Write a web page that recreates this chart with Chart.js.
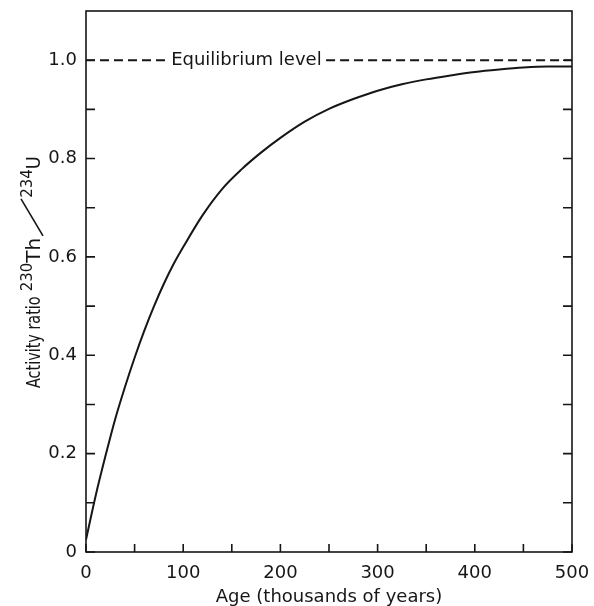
<!DOCTYPE html>
<html>
<head>
<meta charset="utf-8">
<script src="https://cdn.jsdelivr.net/npm/chart.js@4.4.1/dist/chart.umd.min.js"></script>
<style>
  html, body { margin: 0; padding: 0; background: #fff; }
  #wrap { width: 594px; height: 606px; }
</style>
</head>
<body>
<div id="wrap"><canvas id="thChart" width="594" height="606"></canvas></div>
<script>
// values (age in thousands of years)
const ageKyr = [0, 10, 20, 30, 40, 50, 60, 70, 80, 90, 100, 120, 140, 160, 180, 200,
  225, 250, 275, 300, 325, 350, 375, 400, 425, 450, 475, 500];
const activityRatio = [0.025, 0.115, 0.195, 0.27, 0.335, 0.395, 0.45, 0.50, 0.545, 0.585, 0.62,
  0.685, 0.738, 0.778, 0.812, 0.842, 0.875, 0.901, 0.921, 0.938, 0.951, 0.961, 0.969, 0.976,
  0.981, 0.985, 0.987, 0.987];

// dashed equilibrium line, broken where the label sits
const equilibriumAge = [0, 83, 165, 247, 500];
const equilibriumRatio = [1.0, 1.0, null, 1.0, 1.0];

const xTickLabels = [0, 100, 200, 300, 400, 500];
const yTickLabels = ["0", "0.2", "0.4", "0.6", "0.8", "1.0"];

const FONT = "'DejaVu Sans', sans-serif";
const INK = "#161616";

const toPoints = (xs, ys) => xs.map((x, i) => ({ x: x, y: ys[i] }));

// inward tick marks, frame, labels that chart.js can't do on its own
const decorations = {
  id: "decorations",
  afterDraw(chart) {
    const { ctx, chartArea: a, scales } = chart;
    const xs = scales.x, ys = scales.y;
    ctx.save();
    ctx.strokeStyle = INK;
    ctx.lineWidth = 1.6;
    ctx.strokeRect(a.left, a.top, a.right - a.left, a.bottom - a.top);

    ctx.beginPath();
    xs.ticks.forEach((t) => {
      const px = xs.getPixelForValue(t.value);
      ctx.moveTo(px, a.bottom);
      ctx.lineTo(px, a.bottom - 8);
    });
    ys.ticks.forEach((t) => {
      const py = ys.getPixelForValue(t.value);
      if (py <= a.top + 2) return;
      ctx.moveTo(a.left, py);
      ctx.lineTo(a.left + 9, py);
      ctx.moveTo(a.right, py);
      ctx.lineTo(a.right - 9, py);
    });
    ctx.stroke();

    ctx.fillStyle = INK;
    ctx.font = "18px " + FONT;
    ctx.textAlign = "center";
    ctx.textBaseline = "middle";
    ctx.fillText("Equilibrium level", xs.getPixelForValue(165), ys.getPixelForValue(1.0));

    ctx.fillText("Age (thousands of years)", (a.left + a.right) / 2, 597);

    // y title with superscripts, rotated; the slash is a long oblique stroke
    const parts = [
      { t: "Activity ratio", f: 20, sx: 0.72, dy: 0, gap: 5 },
      { t: "230", f: 15, sx: 1, dy: -8, gap: 0 },
      { t: "Th", f: 20, sx: 1, dy: 0, gap: 1 },
      { t: "/", f: 20, sx: 1, dy: 0, gap: 1, w: 38 },
      { t: "234", f: 15, sx: 1, dy: -8, gap: 0 },
      { t: "U", f: 20, sx: 0.9, dy: 0, gap: 0 }
    ];
    let total = 0;
    parts.forEach((p) => {
      ctx.font = p.f + "px " + FONT;
      if (p.t !== "/") p.w = ctx.measureText(p.t).width * p.sx;
      total += p.w + p.gap;
    });
    ctx.translate(33, 272);
    ctx.rotate(-Math.PI / 2);
    ctx.textAlign = "left";
    ctx.textBaseline = "alphabetic";
    let cx = -total / 2;
    parts.forEach((p) => {
      if (p.t === "/") {
        ctx.lineWidth = 1.6;
        ctx.beginPath();
        ctx.moveTo(cx + 1, 10);
        ctx.lineTo(cx + p.w, -12);
        ctx.stroke();
      } else {
        ctx.font = p.f + "px " + FONT;
        ctx.save();
        ctx.translate(cx, 7 + p.dy);
        ctx.scale(p.sx, 1);
        ctx.fillText(p.t, 0, 0);
        ctx.restore();
      }
      cx += p.w + p.gap;
    });
    ctx.restore();
  }
};

const noScalePad = (s) => {
  s.paddingTop = 0;
  s.paddingBottom = 0;
  s.paddingLeft = 0;
  s.paddingRight = 0;
};

new Chart(document.getElementById("thChart"), {
  type: "line",
  data: {
    datasets: [
      {
        label: "Activity ratio",
        data: toPoints(ageKyr, activityRatio),
        borderColor: INK,
        borderWidth: 2,
        pointRadius: 0,
        cubicInterpolationMode: "monotone",
        fill: false
      },
      {
        label: "Equilibrium level",
        data: toPoints(equilibriumAge, equilibriumRatio),
        borderColor: INK,
        borderWidth: 2,
        borderDash: [9, 5],
        pointRadius: 0,
        spanGaps: false,
        fill: false
      }
    ]
  },
  options: {
    responsive: false,
    animation: false,
    layout: { padding: { left: 0, right: 22, top: 11, bottom: 0 } },
    plugins: {
      legend: { display: false },
      tooltip: { enabled: false }
    },
    scales: {
      x: {
        type: "linear",
        min: 0,
        max: 500,
        afterFit: (s) => { s.height = 54; noScalePad(s); },
        grid: { display: false, drawTicks: false },
        border: { display: false },
        ticks: {
          stepSize: 50,
          autoSkip: false,
          maxRotation: 0,
          padding: 11,
          color: INK,
          font: { family: FONT, size: 18 },
          callback: (v) => (xTickLabels.includes(v) ? String(v) : "")
        }
      },
      y: {
        type: "linear",
        min: 0,
        max: 1.1,
        afterFit: (s) => { s.width = 86; noScalePad(s); },
        grid: { display: false, drawTicks: false },
        border: { display: false },
        ticks: {
          stepSize: 0.1,
          autoSkip: false,
          padding: 9,
          color: INK,
          font: { family: FONT, size: 18 },
          callback: (v) => {
            const k = Math.round(v * 10);
            return k % 2 === 0 && k / 2 < yTickLabels.length ? yTickLabels[k / 2] : "";
          }
        }
      }
    }
  },
  plugins: [decorations]
});
</script>
</body>
</html>
